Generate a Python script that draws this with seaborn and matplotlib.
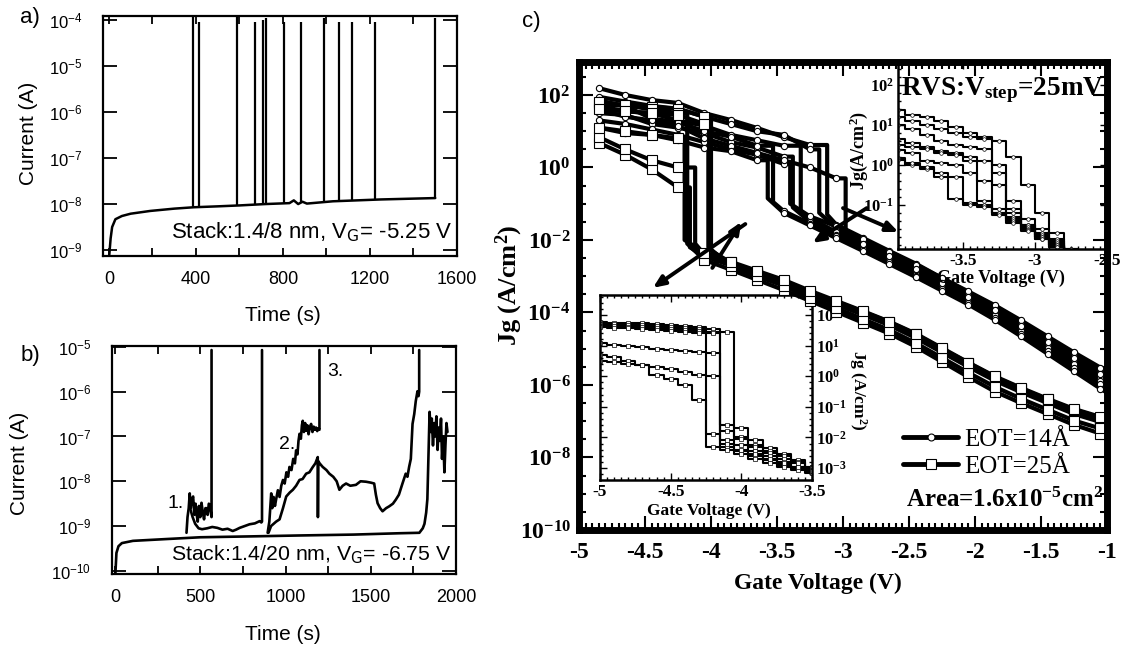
import numpy as np
import matplotlib
matplotlib.use("Agg")
import matplotlib.pyplot as plt
import seaborn as sns
from matplotlib.lines import Line2D
from matplotlib.ticker import FixedLocator, NullLocator, NullFormatter

W, H = 1121, 648
SANS = "Liberation Sans"
SERIF = "Liberation Serif"

# ---------------- panel a: 1.4/8 nm stack, current in log10(A) ----------------
a_time = [2, 8, 15, 30, 60, 100, 190, 300, 390, 500, 600, 720, 830, 850, 870, 890, 910, 1030, 1250, 1500]
a_logi = [-9.1, -8.75, -8.5, -8.33, -8.26, -8.21, -8.15, -8.1, -8.07, -8.05, -8.03, -8.0, -7.98, -7.92,
          -8.0, -7.95, -7.99, -7.94, -7.9, -7.87]
a_spike_t = [387, 415, 588, 671, 709, 720, 805, 884, 991, 1059, 1116, 1222, 1501]
a_spike_lo = [-8.07, -8.06, -8.03, -8.01, -8.0, -8.0, -7.98, -7.96, -7.94, -7.93, -7.92, -7.9, -7.87]
a_spike_hi = [-3.93, -4.05, -3.93, -4.03, -4.0, -3.95, -4.05, -4.05, -3.95, -4.05, -4.05, -4.05, -3.95]
a_xticks = [0, 400, 800, 1200, 1600]
a_xminor = [200, 600, 1000, 1400]
a_yexp = [-4, -5, -6, -7, -8, -9]

# ---------------- panel b: 1.4/20 nm stack, current in log10(A) ----------------
b_base_t = [2, 8, 20, 40, 105, 300, 500, 800, 1080, 1400, 1670, 1785, 1805, 1815, 1825, 1832, 1838,
            1845, 1852, 1858, 1865, 1872, 1878, 1885, 1892, 1898, 1905, 1912, 1918, 1925, 1932, 1938,
            1944, 1950]
b_base_j = [-10.05, -9.6, -9.45, -9.38, -9.33, -9.29, -9.25, -9.23, -9.21, -9.19, -9.16, -9.15, -9.05,
            -8.95, -8.7, -8.4, -7.5, -6.45, -6.9, -6.6, -7.2, -6.7, -7.0, -6.55, -7.3, -6.8, -7.1, -6.6,
            -7.5, -7.0, -7.8, -7.2, -6.7, -6.9]
b1_t = [419, 425, 432, 438, 444, 450, 458, 465, 472, 477, 485, 492, 500, 507, 515, 522, 530, 536, 543,
        550, 556, 562, 566, 566]
b1_j = [-9.15, -8.8, -8.6, -8.27, -8.6, -8.4, -8.34, -8.75, -8.5, -8.7, -8.9, -8.55, -8.8, -8.48, -8.7,
        -8.85, -8.6, -8.6, -8.75, -8.5, -8.53, -8.7, -8.8, -5.07]
b2_t = [440, 455, 470, 490, 510, 540, 570, 600, 630, 660, 690, 710, 731, 760, 789, 820, 848, 858, 862, 862]
b2_j = [-8.6, -8.8, -8.95, -9.05, -9.07, -9.05, -9.02, -9.04, -9.08, -9.06, -9.11, -9.08, -9.04, -9.0,
        -8.96, -8.94, -8.89, -8.92, -8.9, -5.07]
b3_t = [895, 905, 912, 916, 922, 930, 938, 945, 955, 965, 975, 985, 995, 1005, 1015, 1023, 1035, 1045,
        1055, 1062, 1070, 1076, 1082, 1090, 1096, 1101, 1108, 1115, 1121, 1128, 1135, 1142, 1150, 1158,
        1165, 1172, 1179, 1186, 1192, 1199, 1199]
b3_j = [-9.15, -8.9, -8.5, -8.27, -8.6, -8.35, -8.55, -8.4, -8.2, -8.35, -8.1, -7.97, -8.05, -7.8, -7.9,
        -7.68, -7.75, -7.5, -7.6, -7.31, -7.4, -7.1, -6.94, -7.05, -6.75, -6.65, -6.9, -6.7, -6.87, -6.75,
        -6.95, -6.8, -6.72, -6.9, -6.78, -6.85, -6.8, -6.88, -6.82, -6.85, -5.07]
b4_t = [900, 915, 930, 945, 965, 985, 1004, 1025, 1043, 1062, 1082, 1100, 1121, 1140, 1160, 1175, 1189,
        1190, 1192, 1200, 1218, 1240, 1257, 1280, 1300, 1316, 1335, 1355, 1380, 1413, 1440, 1472, 1500,
        1520, 1530, 1540, 1555, 1569, 1590, 1608, 1630, 1647, 1665, 1686, 1705, 1715, 1725, 1735, 1745,
        1755, 1764, 1774, 1780, 1784, 1784]
b4_j = [-9.15, -9.0, -8.95, -8.9, -8.85, -8.6, -8.34, -8.25, -8.19, -8.1, -7.97, -7.95, -7.83, -7.8,
        -7.68, -7.6, -7.46, -8.8, -7.55, -7.6, -7.68, -7.75, -7.83, -7.9, -8.0, -8.19, -8.1, -8.05, -8.1,
        -8.08, -8.0, -8.01, -8.03, -8.05, -8.3, -8.49, -8.6, -8.67, -8.6, -8.56, -8.5, -8.41, -8.3, -8.05,
        -7.83, -7.9, -7.68, -7.5, -6.72, -6.5, -6.21, -5.99, -6.1, -6.0, -5.07]
b_xticks = [0, 500, 1000, 1500, 2000]
b_xminor = [250, 750, 1250, 1750]
b_yexp = [-5, -6, -7, -8, -9, -10]

# ---------------- panel c: ramped voltage stress, Jg in log10(A/cm2) ----------------
c_grid = [-4.85, -4.65, -4.45, -4.25, -4.05, -3.85, -3.65, -3.45, -3.25, -3.05, -2.85, -2.65, -2.45,
          -2.25, -2.05, -1.85, -1.65, -1.45, -1.25, -1.05, -0.85]
# before breakdown (on c_grid from the left), breakdown voltage, after breakdown (first value at bd)
eot14_hi = [[2.19, 2.0, 1.86, 1.78, 1.5, 1.31, 1.09, 0.84, 0.62],
            [1.95, 1.82, 1.7, 1.62, 1.4, 1.2, 1.0, 0.9, 0.5],
            [1.7, 1.55, 1.5, 1.3, 1.15, 0.9, 0.75, 0.6],
            [1.5, 1.45, 1.2, 1.1, 0.95, 0.7, 0.55, 0.3],
            [1.85, 1.7, 1.35, 1.25, 1.0, 0.85, 0.6],
            [1.3, 1.2, 1.05, 0.9, 0.7, 0.5, 0.35, 0.1],
            [1.6, 1.4, 1.3, 1.15, 0.8, 0.6, 0.4, 0.2, 0.0, -0.3],
            [1.1, 0.95, 0.9, 0.75, 0.55, 0.45, 0.2]]
eot14_bd = [-3.12, -3.18, -3.32, -3.38, -3.53, -3.4, -2.98, -3.57]
eot14_lo = [[-1.3, -1.58, -1.94, -2.3, -2.65, -3.05, -3.45, -3.82, -4.25, -4.7, -5.12, -5.58, -6.0],
            [-1.25, -1.68, -2.02, -2.38, -2.75, -3.12, -3.52, -3.9, -4.33, -4.78, -5.2, -5.66, -6.08],
            [-1.2, -1.4, -1.78, -2.12, -2.48, -2.85, -3.22, -3.6, -4.0, -4.43, -4.88, -5.32, -5.8, -6.22],
            [-1.1, -1.5, -1.86, -2.2, -2.56, -2.93, -3.3, -3.68, -4.08, -4.52, -4.98, -5.42, -5.9, -6.33],
            [-0.95, -1.2, -1.55, -1.9, -2.25, -2.6, -2.98, -3.36, -3.74, -4.15, -4.6, -5.06, -5.52, -5.98, -6.42],
            [-1.0, -1.35, -1.62, -1.98, -2.32, -2.68, -3.05, -3.42, -3.8, -4.22, -4.66, -5.1, -5.52, -5.96],
            [-1.75, -2.1, -2.45, -2.8, -3.18, -3.56, -3.94, -4.38, -4.82, -5.25, -5.7, -6.12],
            [-0.85, -1.25, -1.6, -1.95, -2.3, -2.66, -3.02, -3.4, -3.78, -4.2, -4.66, -5.14, -5.62, -6.1, -6.55]]
eot25_hi = [[0.68, 0.35, -0.05, -0.55],
            [0.84, 0.5, 0.2, 0.0],
            [1.75, 1.7, 1.67, 1.62, 1.4],
            [1.8, 1.72, 1.6, 1.5],
            [1.6, 1.55, 1.5, 1.45, 1.2],
            [1.1, 1.0, 0.9, 0.8]]
eot25_bd = [-4.16, -4.12, -4.0, -4.18, -4.02, -4.2]
eot25_lo = [[-2.2, -2.45, -2.7, -2.95, -3.2, -3.5, -3.78, -4.06, -4.35, -4.7, -5.1, -5.5, -5.88, -6.2, -6.5,
             -6.8, -7.02, -7.22],
            [-2.1, -2.4, -2.64, -2.9, -3.14, -3.45, -3.72, -4.0, -4.3, -4.64, -5.03, -5.42, -5.8, -6.12,
             -6.44, -6.72, -6.94, -7.14],
            [-2.3, -2.62, -2.88, -3.12, -3.44, -3.7, -3.98, -4.26, -4.6, -5.0, -5.39, -5.78, -6.1, -6.4,
             -6.68, -6.9, -7.1],
            [-2.1, -2.55, -2.82, -3.1, -3.38, -3.68, -3.98, -4.28, -4.58, -4.94, -5.36, -5.78, -6.18, -6.5,
             -6.8, -7.1, -7.34, -7.55],
            [-2.2, -2.72, -3.0, -3.26, -3.6, -3.88, -4.18, -4.48, -4.84, -5.25, -5.66, -6.05, -6.38, -6.68,
             -6.98, -7.2, -7.42],
            [-2.0, -2.35, -2.6, -2.85, -3.1, -3.4, -3.68, -3.96, -4.25, -4.58, -4.98, -5.38, -5.76, -6.08,
             -6.38, -6.66, -6.88, -7.08]]
c_xticks = [-5, -4.5, -4, -3.5, -3, -2.5, -2, -1.5, -1]
c_yexp = [2, 0, -2, -4, -6, -8, -10]
# hand drawn arrows (tail, head) as (V, log10 Jg)
c_arrows = [((-3.74, -1.56), (-4.44, -3.32)), ((-3.99, -2.77), (-3.77, -1.50)),
            ((-2.82, -1.12), (-3.23, -2.08)), ((-3.0, -1.12), (-2.58, -1.78))]

# upper right inset, EOT = 14 A
ins14_grid = [-3.95, -3.85, -3.75, -3.65, -3.55, -3.45, -3.35, -3.25, -3.15, -3.05, -2.95, -2.85, -2.75, -2.65]
ins14_curves = [[1.38, 1.25, 1.2, 1.1, 0.95, 0.8, 0.7, 0.6, 0.2, -0.5, -1.2, -1.7, -2.1, -2.3],
                [1.2, 1.1, 1.0, 0.9, 0.8, 0.7, 0.65, 0.0, -0.9, -1.35, -1.6, -1.85, -2.1, -2.3],
                [1.0, 0.9, 0.75, 0.6, 0.5, 0.45, 0.4, -0.2, -1.1, -1.5, -1.7, -1.9, -2.15, -2.35],
                [0.65, 0.55, 0.45, 0.35, 0.3, 0.2, 0.1, -0.5, -1.2, -1.5, -1.75, -1.95, -2.2, -2.4],
                [0.5, 0.45, 0.4, 0.3, 0.25, 0.1, -0.4, -1.1, -1.3, -1.55, -1.8, -2.0, -2.2, -2.4],
                [0.38, 0.3, 0.1, 0.05, 0.0, -0.2, -0.9, -1.2, -1.35, -1.6, -1.8, -2.0, -2.25, -2.4],
                [0.17, 0.0, -0.1, -0.2, -0.3, -0.95, -1.0, -1.2, -1.4, -1.62, -1.85, -2.05, -2.25, -2.45],
                [0.12, 0.05, -0.05, -0.3, -0.85, -1.0, -1.05, -1.25, -1.45, -1.65, -1.85, -2.05, -2.3, -2.45]]

# lower left inset, EOT = 25 A
ins25_grid = [-5.0, -4.9, -4.8, -4.7, -4.6, -4.5, -4.4, -4.3, -4.2, -4.1, -4.0, -3.9, -3.8, -3.7, -3.6, -3.5]
ins25_curves = [[1.78, 1.75, 1.75, 1.72, 1.7, 1.68, 1.65, 1.6, 1.55, 1.45, -1.7, -2.1, -2.35, -2.55, -2.75, -2.95],
                [1.7, 1.7, 1.68, 1.66, 1.64, 1.6, 1.58, 1.55, 1.45, -1.6, -2.0, -2.25, -2.45, -2.62, -2.8, -2.98],
                [1.65, 1.64, 1.62, 1.6, 1.58, 1.55, 1.5, 1.48, 1.4, -1.8, -2.05, -2.3, -2.5, -2.7, -2.85, -3.0],
                [1.6, 1.58, 1.56, 1.54, 1.5, 1.48, 1.45, 1.4, -1.9, -2.1, -2.25, -2.45, -2.62, -2.8, -2.95, -3.05],
                [1.07, 1.02, 0.98, 0.95, 0.9, 0.87, 0.83, 0.78, 0.75, -2.3, -2.45, -2.6, -2.75, -2.9, -3.0, -3.1],
                [0.7, 0.62, 0.5, 0.37, 0.04, -0.1, -0.3, -0.78, -2.3, -2.4, -2.55, -2.7, -2.82, -2.95, -3.05, -3.15],
                [0.5, 0.46, 0.4, 0.35, 0.3, 0.22, 0.12, 0.05, 0.0, -2.2, -2.4, -2.55, -2.7, -2.85, -2.97, -3.08]]


def rect(left, top, right, bottom):
    # pixel box (origin top left) -> figure fraction
    return [left / W, 1 - bottom / H, (right - left) / W, (bottom - top) / H]


def put_text(fig, x, y, s, **kw):
    kw.setdefault("ha", "center")
    kw.setdefault("va", "center")
    fig.text(x / W, 1 - y / H, s, **kw)


def exp10(vals):
    return np.power(10.0, np.asarray(vals, dtype=float))


def line(ax, x, logy, **kw):
    sns.lineplot(x=x, y=exp10(logy), ax=ax, color="black", estimator=None, sort=False, **kw)


def time_axes(fig, box, xticks, xminor, yexp):
    ax = fig.add_axes(rect(*box))
    ax.set_yscale("log")
    ax.set_xticks(xticks)
    ax.set_xticklabels([str(v) for v in xticks], fontsize=13, fontfamily=SANS)
    ax.xaxis.set_minor_locator(FixedLocator(xminor))
    ax.set_yticks(exp10(yexp))
    ax.set_yticklabels([r"$10^{%d}$" % e for e in yexp], fontsize=12, fontfamily=SANS)
    ax.yaxis.set_minor_locator(NullLocator())
    ax.yaxis.set_minor_formatter(NullFormatter())
    ax.tick_params(which="both", direction="in", top=True, right=True, colors="black")
    ax.tick_params(axis="y", which="major", length=10, width=1.3, pad=15)
    ax.tick_params(axis="x", which="both", length=6, width=1.3, pad=11)
    for s in ax.spines.values():
        s.set_linewidth(1.6)
        s.set_color("black")
    return ax


def draw_panel_a(fig):
    ax = time_axes(fig, (103, 16, 457, 256), a_xticks, a_xminor, a_yexp)
    line(ax, a_time, a_logi, linewidth=1.8)
    ax.vlines(a_spike_t, exp10(a_spike_lo), exp10(a_spike_hi), color="black", linewidth=1.6)
    ax.set_xlim(-27, 1600)
    ax.set_ylim(10 ** -9.13, 10 ** -3.91)
    ax.text(0.986, 0.075, r"Stack:1.4/8 nm, V$_\mathrm{G}$= -5.25 V", transform=ax.transAxes,
            ha="right", va="baseline", fontsize=16, fontfamily=SANS)


def draw_panel_b(fig):
    ax = time_axes(fig, (112, 346, 456, 574), b_xticks, b_xminor, b_yexp)
    for t, j in ((b_base_t, b_base_j), (b1_t, b1_j), (b2_t, b2_j), (b3_t, b3_j), (b4_t, b4_j)):
        line(ax, t, j, linewidth=1.9)
    ax.set_xlim(-18, 2000)
    ax.set_ylim(10 ** -10.07, 10 ** -4.98)
    ax.text(0.988, 0.06, r"Stack:1.4/20 nm, V$_\mathrm{G}$= -6.75 V", transform=ax.transAxes,
            ha="right", va="baseline", fontsize=15.3, fontfamily=SANS)
    for s, x, y in (("1.", 0.186, 0.31), ("2.", 0.509, 0.566), ("3.", 0.648, 0.886)):
        ax.text(x, y, s, transform=ax.transAxes, ha="center", va="center", fontsize=14, fontfamily=SANS)


def draw_inset(fig, box, grid, curves, marker, msize, xlim, ylim, xticks, yexp, right_labels):
    ax = fig.add_axes(rect(*box))
    ax.set_zorder(2)
    ax.set_yscale("log")
    for j in curves:
        line(ax, grid, j, linewidth=1.5, drawstyle="steps-mid")
    for j in curves:
        ax.plot(grid, exp10(j), ls="none", marker=marker, ms=msize, mfc="white", mec="black", mew=0.5)
    ax.set_xticks(xticks)
    ax.set_xticklabels([f"{v:g}" for v in xticks], fontsize=12.5, fontweight="bold", fontfamily=SERIF)
    ax.xaxis.set_minor_locator(FixedLocator(np.arange(xlim[0], xlim[1] + 0.01, 0.05)))
    ax.set_yticks(exp10(yexp))
    ax.set_yticklabels([r"$10^{%d}$" % e for e in yexp], fontsize=12, fontweight="bold", fontfamily=SERIF)
    ax.yaxis.set_minor_locator(FixedLocator(exp10(np.arange(np.floor(ylim[0]), ylim[1], 0.2))))
    ax.yaxis.set_minor_formatter(NullFormatter())
    ax.tick_params(which="both", direction="in", top=True, right=True, width=1.0, pad=3)
    ax.tick_params(which="major", length=5)
    ax.tick_params(which="minor", length=2.5)
    if right_labels:
        ax.tick_params(axis="y", labelleft=False, labelright=True, pad=3)
    for s in ax.spines.values():
        s.set_linewidth(1.8)
        s.set_color("black")
    ax.set_xlim(*xlim)
    ax.set_ylim(10.0 ** ylim[0], 10.0 ** ylim[1])
    return ax


def draw_panel_c(fig):
    ax = fig.add_axes(rect(579, 62, 1107, 530))
    ax.set_zorder(3)
    ax.patch.set_visible(False)
    ax.set_yscale("log")
    families = [(eot14_hi, eot14_bd, eot14_lo, "o", 4.5), (eot25_hi, eot25_bd, eot25_lo, "s", 6.5)]
    for his, bds, los, _, _ in families:
        for hi, bd, lo in zip(his, bds, los):
            n = len(hi)
            line(ax, c_grid[:n] + [bd, bd] + c_grid[n:], hi + [hi[-1], lo[0]] + lo[1:], linewidth=3.0)
    for his, bds, los, mk, ms in families:
        for hi, lo in zip(his, los):
            ax.plot(c_grid, exp10(hi + lo[1:]), ls="none", marker=mk, ms=ms, mfc="white", mec="black", mew=0.8)
    for (tx, ty), (hx, hy) in c_arrows:
        ax.annotate("", xy=(hx, 10 ** hy), xytext=(tx, 10 ** ty),
                    arrowprops=dict(arrowstyle="-|>,head_length=0.7,head_width=0.3", color="black",
                                    lw=2.8, shrinkA=0, shrinkB=0))

    ax.set_xticks(c_xticks)
    ax.set_xticklabels([f"{v:g}" for v in c_xticks], fontsize=17, fontweight="bold", fontfamily=SERIF)
    ax.xaxis.set_minor_locator(FixedLocator(np.arange(-5, -0.99, 0.05)))
    ax.set_yticks(exp10(c_yexp))
    ax.set_yticklabels([r"$10^{%d}$" % e for e in c_yexp], fontsize=17, fontweight="bold", fontfamily=SERIF)
    ax.yaxis.set_minor_locator(FixedLocator(exp10(np.arange(-10, 3, 0.5))))
    ax.yaxis.set_minor_formatter(NullFormatter())
    ax.tick_params(which="both", direction="in", top=True, right=True, width=1.5, colors="black")
    ax.tick_params(which="major", length=10)
    ax.tick_params(which="minor", length=5)
    ax.tick_params(axis="x", which="major", pad=9)
    ax.tick_params(axis="y", which="major", pad=6)
    for s in ax.spines.values():
        s.set_linewidth(5)
        s.set_color("black")
    ax.set_xlim(-5, -1)
    ax.set_ylim(1e-10, 10 ** 2.91)

    handles = [Line2D([], [], color="black", lw=3.5, marker="o", ms=5, mfc="white", mec="black", mew=0.8),
               Line2D([], [], color="black", lw=3.5, marker="s", ms=7, mfc="white", mec="black", mew=0.8)]
    ax.legend(handles, ["EOT=14Å", "EOT=25Å"], loc="upper left", bbox_to_anchor=(903 / W, 1 - 428 / H),
              bbox_transform=fig.transFigure, frameon=False, prop={"family": SERIF, "size": 18},
              handlelength=2.2, handletextpad=0.25, labelspacing=0.2, borderpad=0, borderaxespad=0)

    draw_inset(fig, (898, 62, 1107, 249), ins14_grid, ins14_curves, "o", 2.6,
               (-3.95, -2.5), (-2.1, 2.575), [-3.5, -3, -2.5], [2, 1, 0, -1], False)
    draw_inset(fig, (600, 295, 812, 480), ins25_grid, ins25_curves, "s", 2.8,
               (-5, -3.5), (-3.39, 2.65), [-5, -4.5, -4, -3.5], [2, 1, 0, -1, -2, -3], True)

    serif_bold = dict(fontfamily=SERIF, fontweight="bold")
    put_text(fig, 509, 285, r"Jg (A/cm$^{2}$)", rotation=90, fontsize=19, **serif_bold)
    put_text(fig, 818, 583, "Gate Voltage (V)", fontsize=17, **serif_bold)
    put_text(fig, 1103, 500, r"Area=1.6x10$^{-5}$cm$^{2}$", ha="right", fontsize=18, zorder=5, **serif_bold)
    put_text(fig, 901, 90, r"RVS:V$_{step}$=25mV", ha="left", fontsize=19.5, zorder=5, **serif_bold)
    put_text(fig, 1001, 278, "Gate Voltage (V)", fontsize=13, **serif_bold)
    put_text(fig, 859, 150, r"Jg(A/cm$^{2}$)", rotation=90, fontsize=13, **serif_bold)
    put_text(fig, 709, 511, "Gate Voltage (V)", fontsize=12.5, **serif_bold)
    put_text(fig, 858, 390, r"Jg (A/cm$^{2}$)", rotation=270, fontsize=12.5, **serif_bold)


if __name__ == "__main__":
    sns.set_style("ticks", {"axes.edgecolor": "black", "text.color": "black", "xtick.color": "black",
                            "ytick.color": "black", "axes.labelcolor": "black"})
    plt.rcParams["font.family"] = [SANS, "DejaVu Sans"]
    plt.rcParams["mathtext.default"] = "regular"
    plt.rcParams["axes.unicode_minus"] = False

    fig = plt.figure(figsize=(W / 100, H / 100), dpi=100, facecolor="white")
    draw_panel_a(fig)
    draw_panel_b(fig)
    draw_panel_c(fig)

    put_text(fig, 30, 18, "a)", fontsize=16, fontfamily=SANS)
    put_text(fig, 30, 356, "b)", fontsize=16, fontfamily=SANS)
    put_text(fig, 531, 21, "c)", fontsize=16, fontfamily=SANS)
    put_text(fig, 28, 133, "Current (A)", rotation=90, fontsize=15, fontfamily=SANS)
    put_text(fig, 283, 315, "Time (s)", fontsize=15, fontfamily=SANS)
    put_text(fig, 20, 463, "Current (A)", rotation=90, fontsize=15, fontfamily=SANS)
    put_text(fig, 283, 635, "Time (s)", fontsize=15, fontfamily=SANS)

    fig.savefig("out.png", dpi=100, facecolor="white")
